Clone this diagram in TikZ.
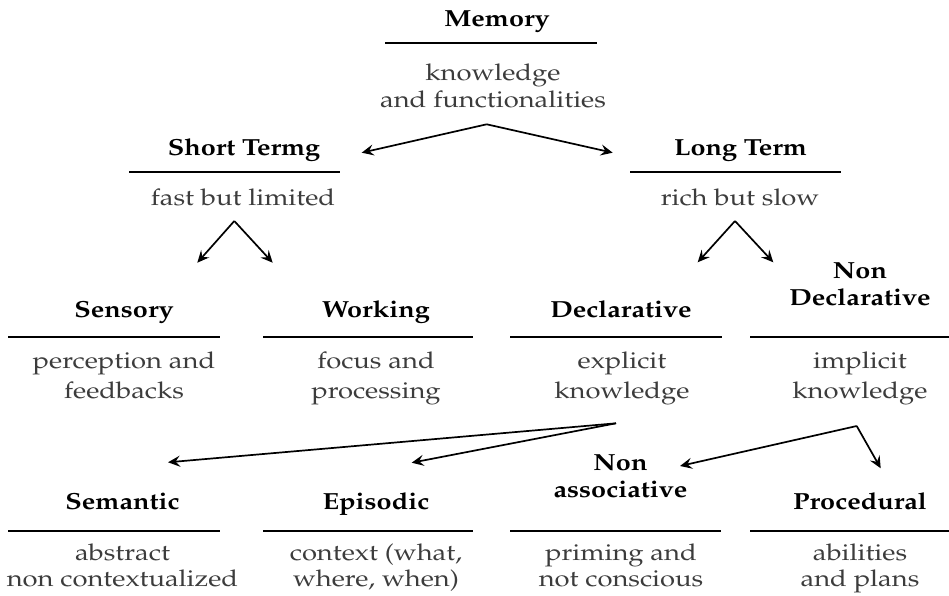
\documentclass[tikz,border=0pt]{standalone}
\usepackage[T1]{fontenc}
\renewcommand{\rmdefault}{ppl}
\usepackage{graphicx}
\usetikzlibrary{arrows.meta}
\definecolor{desccol}{RGB}{60,60,60}
\newcommand{\tx}[1]{\scalebox{1.16}[1]{#1}}
\newcommand{\dx}[1]{\scalebox{1.19}[1]{#1}}
\newcommand{\ttwo}[2]{\scalebox{1.16}[1]{\begin{tabular}[b]{@{}c@{}}#1\\#2\end{tabular}}}
\newcommand{\dtwo}[3]{\scalebox{1.19}[1]{\begin{tabular}[b]{@{}c@{}}#1\\[#3]#2\end{tabular}}}
\tikzset{
  ttl/.style={font=\fontsize{23.3}{27}\selectfont\bfseries, inner sep=0pt, anchor=base},
  dsc/.style={font=\fontsize{23}{27}\selectfont, text=desccol, inner sep=0pt, anchor=base},
  rule/.style={line width=2pt},
  arr/.style={line width=1.7pt, -{Stealth[length=12pt,width=11pt,inset=4.5pt]}}
}
\begin{document}
\begin{tikzpicture}[x=1pt,y=-1pt]
\path[use as bounding box] (0,0) rectangle (949,596);
% Memory
\node[ttl] (mem) at (497,27) {\tx{Memory}};
\draw[rule] (385,43.5) -- (597,43.5);
\node[dsc] (memd) at (493,108) {\dtwo{knowledge}{and functionalities}{0pt}};
% Short / Long
\node[ttl] (short) at (244,156) {\tx{Short Termg}};
\draw[rule] (129,172) -- (340,172);
\node[dsc] (shortd) at (243,205) {\dx{fast but limited}};
\node[ttl] (long) at (740.5,156) {\tx{Long Term}};
\draw[rule] (630,172) -- (841,172);
\node[dsc] (longd) at (740,205) {\dx{rich but slow}};
% Row 3
\node[ttl] (sens) at (124,317) {\tx{Sensory}};
\draw[rule] (8,337.3) -- (220,337.3);
\node[dsc] (sensd) at (124,398) {\dtwo{perception and}{feedbacks}{3pt}};
\node[ttl] (work) at (376,317) {\tx{Working}};
\draw[rule] (263,337.3) -- (473,337.3);
\node[dsc] (workd) at (376,398) {\dtwo{focus and}{processing}{3pt}};
\node[ttl] (decl) at (621,317) {\tx{Declarative}};
\draw[rule] (510,337.3) -- (722,337.3);
\node[dsc] (decld) at (622,398) {\dtwo{explicit}{knowledge}{3pt}};
\node[ttl] (nond) at (860,305) {\ttwo{Non}{Declarative}};
\draw[rule] (750,337.3) -- (949,337.3);
\node[dsc] (nondd) at (860,398) {\dtwo{implicit}{knowledge}{3pt}};
% Row 4
\node[ttl] (sem) at (122.5,509) {\tx{Semantic}};
\draw[rule] (8,530.7) -- (220,530.7);
\node[dsc] (semd) at (122.5,586.5) {\dtwo{abstract}{non contextualized}{-0.5pt}};
\node[ttl] (epi) at (376,509) {\tx{Episodic}};
\draw[rule] (263,530.7) -- (473,530.7);
\node[dsc] (epid) at (376,586.5) {\dtwo{context (what,}{where, when)}{-0.5pt}};
\node[ttl] (nona) at (620.5,497) {\ttwo{Non}{associative}};
\draw[rule] (510,530.7) -- (721,530.7);
\node[dsc] (nonad) at (621,586.5) {\dtwo{priming and}{not conscious}{-0.5pt}};
\node[ttl] (proc) at (860,509) {\tx{Procedural}};
\draw[rule] (750,530.7) -- (949,530.7);
\node[dsc] (procd) at (860,586.5) {\dtwo{abilities}{and plans}{-0.5pt}};
% connector points
\coordinate (memA) at (486.7,124.3);
\coordinate (shortIn) at (361.7,152.7);
\coordinate (longIn) at (612.7,152.7);
\coordinate (shortA) at (234.3,221);
\coordinate (sensIn) at (197.3,262.7);
\coordinate (workIn) at (272.7,262.7);
\coordinate (longA) at (735,221);
\coordinate (declIn) at (697.7,262.3);
\coordinate (nondIn) at (773.3,262.3);
\coordinate (declA) at (616,423.3);
\coordinate (semIn) at (168,462.3);
\coordinate (epiIn) at (411.7,462.7);
\coordinate (nondA) at (856.7,426);
\coordinate (nonaIn) at (680,466);
\coordinate (procIn) at (880.7,468.3);
\draw[arr] (memA) -- (shortIn);
\draw[arr] (memA) -- (longIn);
\draw[arr] (shortA) -- (sensIn);
\draw[arr] (shortA) -- (workIn);
\draw[arr] (longA) -- (declIn);
\draw[arr] (longA) -- (nondIn);
\draw[arr] (declA) -- (semIn);
\draw[arr] (declA) -- (epiIn);
\draw[arr] (nondA) -- (nonaIn);
\draw[arr] (nondA) -- (procIn);
\end{tikzpicture}
\end{document}
